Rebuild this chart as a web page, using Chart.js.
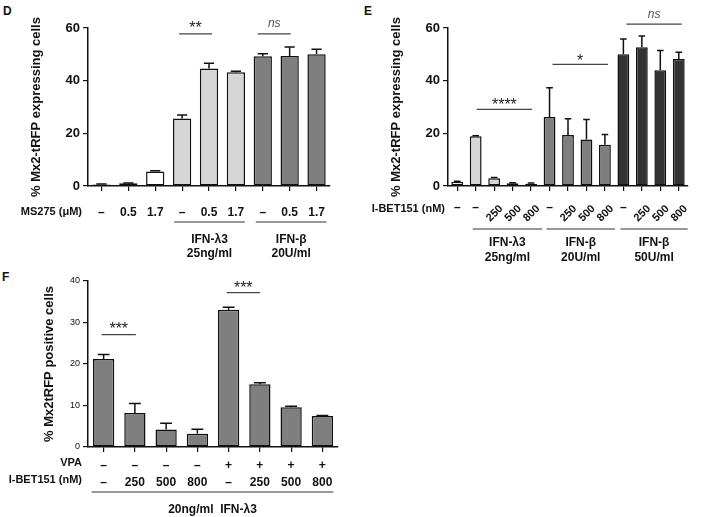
<!DOCTYPE html>
<html>
<head>
<meta charset="utf-8">
<script src="https://cdn.jsdelivr.net/npm/chart.js@4.4.1/dist/chart.umd.min.js"></script>
<style>
body { margin:0; background:#fff; width:708px; height:517px; position:relative; overflow:hidden; font-family:"Liberation Sans", Arial, sans-serif; }
.panel { position:absolute; }
.letter { position:absolute; font-weight:bold; font-size:12px; color:#111; }
</style>
</head>
<body>
<div class="letter" style="left:3px;top:4px">D</div>
<div class="letter" style="left:364px;top:4px">E</div>
<div class="letter" style="left:2px;top:270px">F</div>
<canvas id="chartD" class="panel" style="left:0;top:0" width="350" height="265"></canvas>
<canvas id="chartE" class="panel" style="left:350px;top:0" width="358" height="265"></canvas>
<canvas id="chartF" class="panel" style="left:0;top:265px" width="360" height="252"></canvas>
<script>
// panel D: MS275
const d_labels = ['–', '0.5', '1.7', '–', '0.5', '1.7', '–', '0.5', '1.7']
const d_means = [0.6, 1.0, 5.5, 25.6, 44.6, 43.2, 49.3, 49.4, 50.0]
const d_sem = [0.2, 0.1, 0.3, 1.4, 2.0, 0.4, 0.9, 3.4, 1.9]

// panel E: I-BET151
const e_labels = ['–', '–', '250', '500', '800', '–', '250', '500', '800', '–', '250', '500', '800']
const e_means = [1.6, 18.9, 2.9, 1.0, 0.9, 26.2, 19.4, 17.7, 15.7, 50.0, 52.7, 44.0, 48.2]
const e_sem = [0.2, 0.2, 0.3, 0.2, 0.2, 11.1, 6.1, 7.6, 3.9, 5.8, 4.3, 7.5, 2.6]

// panel F: VPA + I-BET151
const f_vpa = ['–', '–', '–', '–', '+', '+', '+', '+']
const f_ibet = ['–', '250', '500', '800', '–', '250', '500', '800']
const f_means = [21.2, 8.2, 4.2, 3.2, 33.1, 15.1, 9.6, 7.5]
const f_sem = [1.1, 2.3, 1.5, 1.1, 0.6, 0.4, 0.2, 0.1]

const FONT = "'Liberation Sans', Arial, sans-serif"
const INK = '#111'

const errorBars = {
    id: 'errorBars',
    afterDatasetsDraw(chart, args, opts) {
        let ctx = chart.ctx
        let meta = chart.getDatasetMeta(0)
        let y = chart.scales.y
        let vals = chart.data.datasets[0].data
        ctx.save()
        ctx.strokeStyle = INK
        ctx.lineWidth = 1.5
        meta.data.forEach((bar, i) => {
            let top = y.getPixelForValue(vals[i] + opts.sem[i])
            let half = bar.width * 0.28
            ctx.beginPath()
            ctx.moveTo(bar.x, bar.y)
            ctx.lineTo(bar.x, top)
            ctx.moveTo(bar.x - half, top)
            ctx.lineTo(bar.x + half, top)
            ctx.stroke()
        })
        ctx.restore()
    }
}

const extras = {
    id: 'extras',
    afterDraw(chart, args, o) {
        let ctx = chart.ctx
        let x = chart.scales.x
        let y = chart.scales.y
        let bottom = chart.chartArea.bottom
        ctx.save()
        // significance bars
        ;(o.sig || []).forEach(s => {
            let x1 = x.getPixelForValue(s.from) + s.dx1
            let x2 = x.getPixelForValue(s.to) + s.dx2
            let yy = y.getPixelForValue(s.value)
            ctx.strokeStyle = '#444'
            ctx.lineWidth = 1.2
            ctx.beginPath()
            ctx.moveTo(x1, yy)
            ctx.lineTo(x2, yy)
            ctx.stroke()
            ctx.fillStyle = s.italic ? '#555' : '#222'
            ctx.font = (s.italic ? 'italic ' : '') + s.size + 'px ' + FONT
            ctx.textAlign = 'center'
            ctx.textBaseline = 'middle'
            ctx.fillText(s.text, (x1 + x2) / 2, yy - s.lift)
        })
        // group lines and labels under the axis
        ;(o.groups || []).forEach(g => {
            let x1 = x.getPixelForValue(g.from) + g.dx1
            let x2 = x.getPixelForValue(g.to) + g.dx2
            ctx.strokeStyle = '#333'
            ctx.lineWidth = 1.2
            ctx.beginPath()
            ctx.moveTo(x1, bottom + g.line)
            ctx.lineTo(x2, bottom + g.line)
            ctx.stroke()
            ctx.fillStyle = INK
            ctx.font = 'bold 12px ' + FONT
            ctx.textAlign = 'center'
            ctx.textBaseline = 'middle'
            g.text.forEach((t, k) => ctx.fillText(t, (x1 + x2) / 2, bottom + g.textY[k]))
        })
        // row titles
        ;(o.rows || []).forEach(r => {
            ctx.fillStyle = INK
            ctx.font = 'bold 11px ' + FONT
            ctx.textAlign = 'right'
            ctx.textBaseline = 'middle'
            ctx.fillText(r.text, r.x, bottom + r.dy)
        })
        // rotated tick labels (panel E)
        if (o.rotLabels) {
            o.rotLabels.forEach((t, i) => {
                let px = x.getPixelForValue(i)
                ctx.fillStyle = INK
                ctx.textBaseline = 'middle'
                if (t === '–') {
                    ctx.font = 'bold 12px ' + FONT
                    ctx.textAlign = 'center'
                    ctx.fillText(t, px, bottom + 22)
                } else {
                    ctx.save()
                    ctx.font = 'bold 11px ' + FONT
                    ctx.translate(px + 7, bottom + 21)
                    ctx.rotate(-Math.PI / 4)
                    ctx.textAlign = 'right'
                    ctx.fillText(t, 0, 0)
                    ctx.restore()
                }
            })
        }
        ctx.restore()
    }
}

function make_chart(id, cfg) {
    let el = document.getElementById(id)
    return new Chart(el, {
        type: 'bar',
        data: {
            labels: cfg.labels,
            datasets: [{
                data: cfg.means,
                backgroundColor: cfg.colors,
                borderColor: INK,
                borderWidth: 1.5,
                borderSkipped: false,
                categoryPercentage: 1,
                barPercentage: cfg.barPct
            }]
        },
        options: {
            responsive: false,
            animation: false,
            layout: { padding: cfg.padding },
            plugins: {
                legend: { display: false },
                tooltip: { enabled: false },
                errorBars: { sem: cfg.sem },
                extras: cfg.extras
            },
            scales: {
                x: {
                    offset: true,
                    grid: { display: true, drawOnChartArea: false, drawTicks: true, tickLength: 5, offset: false, color: INK, lineWidth: 1.2 },
                    border: { display: true, color: INK, width: 1.5 },
                    ticks: cfg.xticks,
                    afterFit: s => { s.height = cfg.xHeight }
                },
                y: {
                    min: 0,
                    max: cfg.ymax,
                    grid: { display: true, drawOnChartArea: false, drawTicks: true, tickLength: 5, color: INK, lineWidth: 1.2 },
                    border: { display: true, color: INK, width: 1.5 },
                    ticks: { stepSize: cfg.step, color: INK, padding: 3, font: cfg.yfont },
                    title: {
                        display: true,
                        text: cfg.ytitle,
                        color: INK,
                        font: { family: FONT, size: cfg.titleSize, weight: 'bold' },
                        padding: { top: cfg.titlePad, bottom: 0 }
                    },
                    afterFit: s => { s.width = cfg.yWidth }
                }
            }
        },
        plugins: [errorBars, extras]
    })
}

const WHITE = '#ffffff', LIGHT = '#d6d6d6', MID = '#7f7f7f', DARK = '#333333'

make_chart('chartD', {
    labels: d_labels,
    means: d_means,
    sem: d_sem,
    colors: [WHITE, WHITE, WHITE, LIGHT, LIGHT, LIGHT, MID, MID, MID],
    barPct: 0.68,
    padding: { left: 0, top: 28, right: 20, bottom: 19 },
    xHeight: 60,
    yWidth: 88,
    ymax: 60,
    step: 20,
    yfont: { family: FONT, size: 13, weight: 'bold' },
    ytitle: '% Mx2-tRFP expressing cells',
    titleSize: 13,
    titlePad: 29,
    xticks: { color: INK, padding: 14, maxRotation: 0, autoSkip: false, font: { family: FONT, size: 12, weight: 'bold' } },
    extras: {
        sig: [
            { from: 3, to: 4, dx1: -3, dx2: 3, value: 57.8, text: '**', size: 16, lift: 5 },
            { from: 6, to: 7, dx1: -5, dx2: 1, value: 57.8, text: 'ns', italic: true, size: 12, lift: 10 }
        ],
        groups: [
            { from: 3, to: 5, dx1: -8, dx2: 9, line: 36, text: ['IFN-λ3', '25ng/ml'], textY: [54, 68] },
            { from: 6, to: 8, dx1: -7, dx2: 10, line: 36, text: ['IFN-β', '20U/ml'], textY: [54, 68] }
        ],
        rows: [{ text: 'MS275 (μM)', x: 82, dy: 26 }]
    }
})

make_chart('chartE', {
    labels: e_labels,
    means: e_means,
    sem: e_sem,
    colors: [WHITE, LIGHT, LIGHT, LIGHT, LIGHT, MID, MID, MID, MID, DARK, DARK, DARK, DARK],
    barPct: 0.64,
    padding: { left: 0, top: 28, right: 20, bottom: 19 },
    xHeight: 60,
    yWidth: 98,
    ymax: 60,
    step: 20,
    yfont: { family: FONT, size: 13, weight: 'bold' },
    ytitle: '% Mx2-tRFP expressing cells',
    titleSize: 13,
    titlePad: 39,
    xticks: { display: false },
    extras: {
        sig: [
            { from: 1, to: 4, dx1: 1, dx2: 1, value: 29.1, text: '****', size: 16, lift: 4 },
            { from: 5, to: 8, dx1: 3, dx2: 3, value: 46.2, text: '*', size: 16, lift: 3 },
            { from: 9, to: 12, dx1: 3, dx2: 3, value: 61.5, text: 'ns', italic: true, size: 12, lift: 9 }
        ],
        groups: [
            { from: 1, to: 4, dx1: -3, dx2: 11, line: 43, text: ['IFN-λ3', '25ng/ml'], textY: [57, 72] },
            { from: 5, to: 8, dx1: -3, dx2: 10, line: 43, text: ['IFN-β', '20U/ml'], textY: [57, 72] },
            { from: 9, to: 12, dx1: -3, dx2: 9, line: 43, text: ['IFN-β', '50U/ml'], textY: [57, 72] }
        ],
        rows: [{ text: 'I-BET151 (nM)', x: 95, dy: 23 }],
        rotLabels: e_labels
    }
})

make_chart('chartF', {
    labels: f_vpa.map((v, i) => [v, f_ibet[i]]),
    means: f_means,
    sem: f_sem,
    colors: MID,
    barPct: 0.68,
    padding: { left: 0, top: 16, right: 22, bottom: 10 },
    xHeight: 60,
    yWidth: 88,
    ymax: 40,
    step: 10,
    yfont: { family: FONT, size: 9 },
    ytitle: '% Mx2tRFP positive cells',
    titleSize: 13,
    titlePad: 42,
    xticks: { color: INK, padding: 5, maxRotation: 0, autoSkip: false, font: { family: FONT, size: 12, weight: 'bold', lineHeight: 1.4 } },
    extras: {
        sig: [
            { from: 0, to: 1, dx1: -2, dx2: 1, value: 27.1, text: '***', size: 16, lift: 5 },
            { from: 4, to: 5, dx1: -2, dx2: 0, value: 37.2, text: '***', size: 16, lift: 4 }
        ],
        groups: [
            { from: 0, to: 7, dx1: -12, dx2: 11, line: 45, text: ['20ng/ml  IFN-λ3'], textY: [63] }
        ],
        rows: [
            { text: 'VPA', x: 82, dy: 16 },
            { text: 'I-BET151 (nM)', x: 82, dy: 33 }
        ]
    }
})
</script>
</body>
</html>
